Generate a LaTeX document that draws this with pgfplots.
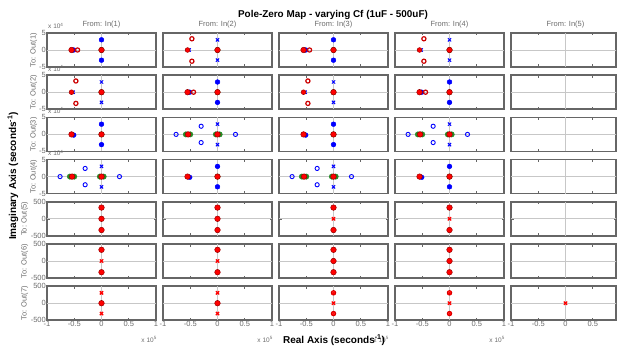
\documentclass[border=0pt]{standalone}
\usepackage{fontspec}
\setmainfont{Liberation Sans}
\usepackage{pgfplots}
\pgfplotsset{compat=1.18}

\definecolor{framegray}{gray}{0.4}
\definecolor{labelgray}{gray}{0.42}
\definecolor{zerogray}{gray}{0.78}
\definecolor{pzblue}{rgb}{0,0,1}
\definecolor{pzgreen}{rgb}{0.15,0.55,0.15}
\definecolor{pzred}{rgb}{1,0,0}
\definecolor{pzdark}{rgb}{0.6,0,0}

\pgfplotsset{
  panel/.style={scale only axis, width=109pt, height=34pt, anchor=south west,
    xmin=-1, xmax=1, xtick={-1,-0.5,0,0.5,1},
    xticklabels={,,,,}, yticklabels={,,},
    tick align=inside, major tick length=2.5pt,
    axis line style={draw=framegray, line width=1.5pt},
    every tick/.style={draw=framegray, line width=0.6pt},
    ticklabel style={font=\fontsize{7.5}{8}\selectfont, text=labelgray, inner sep=1pt}},
  big/.style={ymin=-5, ymax=5, ytick={-5,0,5}},
  small/.style={ymin=-500, ymax=500, ytick={-500,0,500}},
  leftbig/.style={yticklabels={-5,0,5}},
  leftsmall/.style={yticklabels={-500,0,500}},
  bottom/.style={xticklabels={-1,-0.5,0,0.5,1}},
  last/.style={width=105.2pt, xmax=0.93},
  zl/.style={zerogray, line width=0.7pt, forget plot},
  bx/.style={only marks, mark=x, mark size=2.3pt, draw=pzblue, line width=1pt},
  bo/.style={only marks, mark=o, mark size=2.1pt, draw=pzblue, line width=0.9pt},
  bf/.style={only marks, mark=*, mark size=2.4pt, draw=pzblue, fill=pzblue},
  gf/.style={only marks, mark=*, mark size=2.7pt, draw=pzgreen, fill=pzgreen},
  rf/.style={only marks, mark=*, mark size=2.8pt, draw=pzdark, fill=pzred, line width=0.5pt},
  rx/.style={only marks, mark=x, mark size=2.3pt, draw=pzred, line width=1.3pt},
  ro/.style={only marks, mark=o, mark size=2.1pt, draw=pzred!80!black, line width=1.2pt},
}

% one panel of the pole-zero grid: left, bottom, options, contents
\newcommand{\pz}[4]{\begin{axis}[panel, at={(#1pt,#2pt)}, #3]#4\end{axis}}
\newcommand{\zb}{\addplot[zl] coordinates {(-1,0) (1,0)};\addplot[zl] coordinates {(0,-5) (0,5)};}
\newcommand{\zs}{\addplot[zl] coordinates {(-1,0) (1,0)};\addplot[zl] coordinates {(0,-500) (0,500)};}

% channel patterns (x in 1e5, y in 1e4)
\newcommand{\tA}{\zb
  \addplot[bf] coordinates {(0,3) (0,-3)};
  \addplot[bx] coordinates {(0,3) (0,-3)};
  \addplot[bf] coordinates {(-0.51,0)};
  \addplot[gf] coordinates {(0,0)};
  \addplot[rf] coordinates {(-0.55,0) (0,0)};
  \addplot[ro] coordinates {(-0.44,0)};}
\newcommand{\tB}{\zb
  \addplot[bx] coordinates {(0,3) (0,-3) (-0.52,0)};
  \addplot[gf] coordinates {(0,0)};
  \addplot[ro] coordinates {(-0.47,3.3) (-0.47,-3.3)};
  \addplot[rf, mark size=2.4pt] coordinates {(-0.55,0)};
  \addplot[rf] coordinates {(0,0)};}
\newcommand{\tC}{\zb
  \addplot[bf] coordinates {(0,3) (0,-3) (-0.51,-0.2)};
  \addplot[bx] coordinates {(0,3) (0,-3)};
  \addplot[gf] coordinates {(0,0)};
  \addplot[rf] coordinates {(-0.55,0) (0,0)};}
\newcommand{\tD}{\zb
  \addplot[bo] coordinates {(-0.76,0) (0.33,0) (-0.30,2.4) (-0.30,-2.4)};
  \addplot[bx] coordinates {(0,3) (0,-3)};
  \addplot[gf] coordinates {(-0.58,0) (-0.50,0) (-0.03,0) (0.04,0)};
  \addplot[rf] coordinates {(-0.54,0) (0,0)};}
% low-frequency channels (y in s^-1)
\newcommand{\rFa}{\zs\addplot[rf] coordinates {(0,330) (0,0) (0,-330)};}
\newcommand{\rFb}{\zs\addplot[rf] coordinates {(0,330) (0,-330)};\addplot[rx] coordinates {(0,0)};}
\newcommand{\rGa}{\zs\addplot[rx] coordinates {(0,305) (0,-305)};\addplot[rf] coordinates {(0,0)};}
\newcommand{\rGb}{\zs\addplot[ro] coordinates {(0,305) (0,-305)};\addplot[rx] coordinates {(0,305) (0,0) (0,-305)};}

\begin{document}
\begin{tikzpicture}
\path[use as bounding box] (0,0) rectangle (617pt,351pt);

% row 1
\pz{47}{284}{big,leftbig}{\tA}
\pz{163}{284}{big}{\tB}
\pz{279}{284}{big}{\tA}
\pz{395}{284}{big}{\tB}
\pz{511}{284}{big,last}{\zb}
% row 2
\pz{47}{241.8}{big,leftbig}{\tB}
\pz{163}{241.8}{big}{\tA}
\pz{279}{241.8}{big}{\tB}
\pz{395}{241.8}{big}{\tA}
\pz{511}{241.8}{big,last}{\zb}
% row 3
\pz{47}{199.6}{big,leftbig}{\tC}
\pz{163}{199.6}{big}{\tD}
\pz{279}{199.6}{big}{\tC}
\pz{395}{199.6}{big}{\tD}
\pz{511}{199.6}{big,last}{\zb}
% row 4
\pz{47}{157.4}{big,leftbig}{\tD}
\pz{163}{157.4}{big}{\tC}
\pz{279}{157.4}{big}{\tD}
\pz{395}{157.4}{big}{\tC}
\pz{511}{157.4}{big,last}{\zb}
% row 5
\pz{47}{115.2}{small,leftsmall}{\rFa}
\pz{163}{115.2}{small}{\rFa}
\pz{279}{115.2}{small}{\rFb}
\pz{395}{115.2}{small}{\rFb}
\pz{511}{115.2}{small,last}{\zs}
% row 6
\pz{47}{73}{small,leftsmall}{\rFb}
\pz{163}{73}{small}{\rFb}
\pz{279}{73}{small}{\rFa}
\pz{395}{73}{small}{\rFa}
\pz{511}{73}{small,last}{\zs}
% row 7
\pz{47}{30.8}{small,leftsmall,bottom}{\rGa}
\pz{163}{30.8}{small,bottom}{\rGa}
\pz{279}{30.8}{small,bottom}{\rGb}
\pz{395}{30.8}{small,bottom}{\rGb}
\pz{511}{30.8}{small,last,bottom}{\zs\addplot[rx] coordinates {(0,0)};}

% titles and labels
\node[anchor=base, font=\fontsize{9.9}{11}\selectfont\bfseries] at (333pt,333.5pt) {Pole-Zero Map - varying Cf (1uF - 500uF)};
\foreach \c/\i in {101.5/1, 217.5/2, 333.5/3, 449.5/4, 565.5/5}
  \node[anchor=base, font=\fontsize{7.5}{8}\selectfont, text=labelgray] at (\c pt,324.5pt) {From: In(\i)};
\foreach \x/\r/\i in {35.5/301/1, 35.5/258.8/2, 35.5/216.6/3, 35.5/174.4/4, 26.5/132.2/5, 26.5/90/6, 26.5/47.8/7}
  \node[anchor=base, rotate=90, font=\fontsize{7.5}{8}\selectfont, text=labelgray] at (\x pt,\r pt) {To: Out(\i)};
\foreach \y in {322, 279.8, 237.6, 195.4}
  \node[anchor=base west, inner sep=0pt, font=\fontsize{6.5}{7}\selectfont, text=labelgray] at (48pt,\y pt) {x 10\textsuperscript{4}};
\foreach \x in {157, 273, 389, 505}
  \node[anchor=base east, inner sep=0pt, font=\fontsize{6.5}{7}\selectfont, text=labelgray] at (\x pt,9pt) {x 10\textsuperscript{5}};
\node[anchor=base, font=\fontsize{10}{11}\selectfont\bfseries] at (334pt,8pt) {Real Axis (seconds\textsuperscript{-1})};
\node[anchor=base, rotate=90, font=\fontsize{10}{11}\selectfont\bfseries] at (16pt,175pt) {Imaginary Axis (seconds\textsuperscript{-1})};
\end{tikzpicture}
\end{document}
